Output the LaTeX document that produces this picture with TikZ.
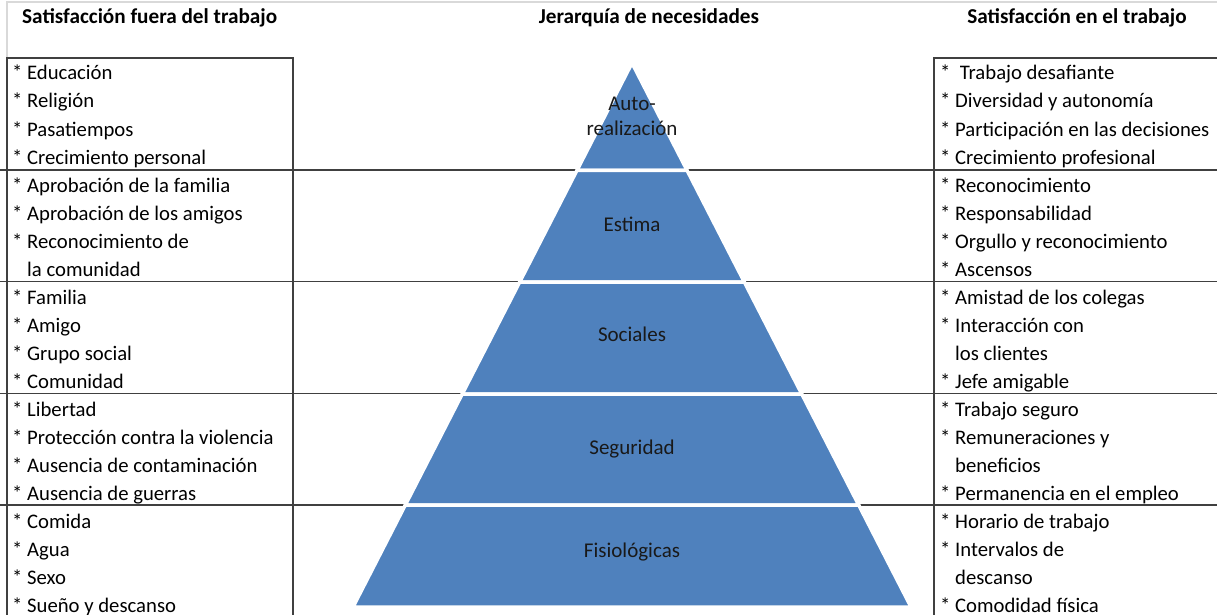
\documentclass[tikz,border=0pt]{standalone}
\usepackage{fontspec}
\setmainfont{Carlito}
\usepackage{xcolor}
\usepackage{tikz}
\usetikzlibrary{calc}
\definecolor{pyrblue}{HTML}{4F81BD}
\definecolor{rulegray}{HTML}{404040}
\definecolor{framegray}{HTML}{D9D9D9}
\newcommand{\cont}{\phantom{*}\ }

\begin{document}
\begin{tikzpicture}[x=1pt, y=-1pt,
    head/.style={font=\fontsize{21.2}{25}\selectfont\bfseries, anchor=base, inner sep=0pt},
    item/.style={font=\fontsize{20.7}{28}\selectfont, anchor=base west, inner sep=0pt},
    level/.style={font=\fontsize{21}{25}\selectfont, align=center, text=black!90},
    layer/.style={fill=pyrblue, draw=white, line width=3.5pt, line join=round},
    rule/.style={draw=rulegray, line width=1.3pt},
    frame/.style={draw=framegray, line width=1.3pt}
]
    \useasboundingbox (0,0) rectangle (1217,615);

    % Frame and headers
    \draw[frame] (7,58) -- (7,2) -- (1217,2);
    \node[head, anchor=base west] (hfuera) at (22,24) {Satisfacción fuera del trabajo};
    \node[head] (hjerarquia) at (649,24) {Jerarquía de necesidades};
    \node[head] (hen) at (1077,24) {Satisfacción en el trabajo};

    % Rows
    \foreach \y in {170,281.5,393.5,505}
        \draw[rule] (0,\y) -- (1217,\y);
    \draw[rule] (7,615) -- (7,58) -- (293,58) -- (293,615);
    \draw[rule] (1217,58) -- (934,58) -- (934,615);

    % Pyramid
    \coordinate (apex) at (632,63);
    \coordinate (bl) at (353,607);
    \coordinate (br) at (911,607);
    \foreach \ta/\tb in {0/0.1976, 0.1976/0.4026, 0.4026/0.6085, 0.6085/0.8125, 0.8125/1}
        \draw[layer] ($(apex)!\ta!(bl)$) -- ($(apex)!\ta!(br)$) -- ($(apex)!\tb!(br)$) -- ($(apex)!\tb!(bl)$) -- cycle;

    \node[level] (auto) at (632,116) {Auto-\\realización};
    \node[level, anchor=base] (estima) at (632,231) {Estima};
    \node[level, anchor=base] (sociales) at (632,341) {Sociales};
    \node[level, anchor=base] (seguridad) at (632,454) {Seguridad};
    \node[level, anchor=base] (fisio) at (632,557) {Fisiológicas};

    % Outside work
    \foreach \txt [count=\i] in {
        * Educación, * Religión, * Pasatiempos, * Crecimiento personal,
        * Aprobación de la familia, * Aprobación de los amigos, * Reconocimiento de, \cont la comunidad,
        * Familia, * Amigo, * Grupo social, * Comunidad,
        * Libertad, * Protección contra la violencia, * Ausencia de contaminación, * Ausencia de guerras,
        * Comida, * Agua, * Sexo, * Sueño y descanso}
        \node[item] (fuera\i) at (12,{80+28*(\i-1)}) {\txt};

    % At work
    \foreach \txt [count=\i] in {
        *\ \ Trabajo desafiante, * Diversidad y autonomía, * Participación en las decisiones, * Crecimiento profesional,
        * Reconocimiento, * Responsabilidad, * Orgullo y reconocimiento, * Ascensos,
        * Amistad de los colegas, * Interacción con, \cont los clientes, * Jefe amigable,
        * Trabajo seguro, * Remuneraciones y, \cont beneficios, * Permanencia en el empleo,
        * Horario de trabajo, * Intervalos de, \cont descanso, * Comodidad física}
        \node[item] (en\i) at (940,{80+28*(\i-1)}) {\txt};
\end{tikzpicture}
\end{document}
